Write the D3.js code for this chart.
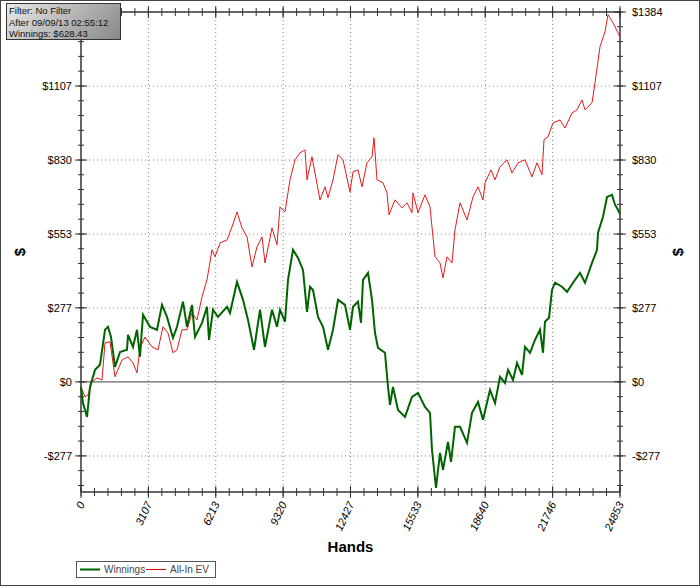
<!DOCTYPE html>
<html><head><meta charset="utf-8">
<script src="https://cdn.jsdelivr.net/npm/d3@7"></script>
<style>body{margin:0;background:#fff}svg{display:block;font-family:"Liberation Sans",Arial,sans-serif}</style>
</head><body><div id="chart"></div>
<script>
// Valores (manos, $)
const winHands = [0,92,277,415,646,876,1107,1245,1383,1568,1798,2121,2167,2398,2582,2720,2859,3182,3504,3735,3965,4242,4427,4703,4888,5118,5257,5579,5810,5902,6087,6317,6732,6870,7193,7470,7700,7977,8254,8484,8807,9038,9176,9406,9545,9775,10006,10236,10421,10559,10698,10928,11159,11389,11620,11850,12173,12404,12542,12772,12911,13003,13234,13418,13556,13695,14017,14156,14248,14386,14617,14940,15262,15539,15862,16092,16185,16369,16554,16692,16922,17061,17245,17476,17799,18029,18306,18536,18859,19090,19320,19551,19689,19920,20104,20335,20473,20703,20934,21164,21303,21395,21580,21718,21856,22179,22410,22686,23009,23239,23562,23793,23839,24069,24254,24484,24623,24761,24853];
const winVals = [-19,-79,-131,-19,45,64,195,206,168,56,112,120,176,131,195,94,251,206,195,288,243,165,206,300,206,288,168,221,281,157,270,243,281,258,374,307,232,120,270,131,270,206,270,225,382,494,464,419,262,356,344,243,206,120,195,307,288,195,281,300,221,382,408,307,183,127,109,-19,-86,-19,-105,-131,-56,-41,-94,-116,-255,-397,-266,-329,-225,-299,-168,-168,-228,-116,-75,-142,-30,-79,19,-4,45,7,71,26,131,109,157,195,109,225,240,344,371,356,337,371,408,371,445,494,558,618,692,700,663,644,628];
const evHands = [0,184,323,507,738,968,1107,1337,1568,1891,2167,2398,2582,2720,2951,3274,3550,3781,4012,4242,4427,4657,4888,5118,5349,5579,5810,6040,6179,6409,6732,6963,7193,7424,7654,7885,8115,8346,8484,8807,9038,9176,9406,9637,9868,10098,10329,10421,10651,11020,11251,11389,11620,11850,12081,12404,12542,12772,12957,13187,13418,13510,13649,13925,14110,14202,14479,14801,15032,15262,15308,15539,15862,16092,16323,16554,16692,16876,17107,17245,17476,17799,18075,18306,18536,18629,18905,19090,19320,19643,19874,20150,20473,20796,21026,21257,21349,21533,21764,22087,22317,22640,22871,23101,23239,23562,23701,23931,24162,24300,24530,24761,24853];
const evVals = [-19,-56,-49,0,15,7,146,150,19,82,94,71,34,127,168,131,120,206,183,109,120,195,195,258,232,318,382,494,468,520,531,580,636,576,543,430,505,543,445,576,513,655,636,756,831,857,868,756,842,681,730,689,756,850,831,711,786,793,730,820,842,913,756,745,707,625,681,651,670,633,707,633,700,655,468,445,389,468,445,569,670,606,692,730,681,745,793,756,805,831,782,820,831,767,820,775,906,917,969,980,950,1006,1018,1055,1018,1044,1119,1254,1310,1374,1344,1306,1290];
const xTicks = [0,3107,6213,9320,12427,15533,18640,21746,24853];
const yTicks = [-277,0,277,553,830,1107,1384];
const infoLines = ["Filter: No Filter","After 09/09/13 02:55:12","Winnings: $628.43"];
const legendItems = [{label:"Winnings",color:"#006400",w:2},{label:"All-In EV",color:"#e00000",w:1}];

const W = 700, H = 588;
const m = {left:81, right:80, top:12, bottom:96};
const svg = d3.select("#chart").append("svg").attr("width",W).attr("height",H);
svg.append("rect").attr("x",0.5).attr("y",0.5).attr("width",W-1).attr("height",585).attr("fill","#fff").attr("stroke","#444");

const x = d3.scaleLinear().domain([0,24853]).range([m.left, W-m.right]);
const y = d3.scaleLinear().domain([-412,1384]).range([H-m.bottom, m.top]);
const x0 = m.left, x1 = W-m.right, y0 = H-m.bottom, y1 = m.top;

// rejilla punteada
const g = svg.append("g");
xTicks.slice(1,-1).forEach(t => g.append("line").attr("x1",x(t)).attr("x2",x(t)).attr("y1",y1).attr("y2",y0)
  .attr("stroke","#888").attr("stroke-dasharray","1 3"));
yTicks.filter(t => t !== 0 && t !== 1384).forEach(t => g.append("line").attr("x1",x0).attr("x2",x1).attr("y1",y(t)).attr("y2",y(t))
  .attr("stroke","#888").attr("stroke-dasharray","1 3"));
g.append("line").attr("x1",x0).attr("x2",x1).attr("y1",y(0)).attr("y2",y(0)).attr("stroke","#666").attr("stroke-width",1.2);

// ejes con ticks menores
const yMinor = d3.range(-7, 26).map(i => i*1384/25).filter(v => v >= -412 && v <= 1384);
const xMinor = d3.range(0, 41).map(i => i*24853/40);
const axis = svg.append("g").attr("stroke","#333");
[x0, x1].forEach(xx => {
  axis.append("line").attr("x1",xx).attr("x2",xx).attr("y1",y1).attr("y2",y0).attr("stroke-width",1.5);
  yMinor.forEach(v => axis.append("line").attr("x1",xx-3).attr("x2",xx+3).attr("y1",y(v)).attr("y2",y(v)));
  yTicks.forEach(v => axis.append("line").attr("x1",xx-6).attr("x2",xx+6).attr("y1",y(v)).attr("y2",y(v)));
});
[y0, y1].forEach(yy => {
  axis.append("line").attr("x1",x0).attr("x2",x1).attr("y1",yy).attr("y2",yy).attr("stroke-width",1.5);
  xMinor.forEach(v => axis.append("line").attr("x1",x(v)).attr("x2",x(v)).attr("y1",yy-4).attr("y2",yy+4));
  xTicks.forEach(v => axis.append("line").attr("x1",x(v)).attr("x2",x(v)).attr("y1",yy-6).attr("y2",yy+6));
});

const fmt = v => v < 0 ? "-$" + (-v) : "$" + v;
yTicks.forEach(v => {
  svg.append("text").attr("x",x0-9).attr("y",y(v)+4).attr("text-anchor","end").attr("font-size",11).text(fmt(v));
  svg.append("text").attr("x",x1+12).attr("y",y(v)+4).attr("font-size",11).text(fmt(v));
});
xTicks.forEach(v => {
  svg.append("text").attr("transform",`translate(${x(v)+4},${y0+12}) rotate(-65)`).attr("text-anchor","end")
    .attr("font-size",11).attr("font-style","italic").text(v);
});
svg.append("text").attr("x",(x0+x1)/2).attr("y",552).attr("text-anchor","middle").attr("font-size",15).attr("font-weight","bold").text("Hands");
svg.append("text").attr("transform",`translate(25,252) rotate(-90)`).attr("text-anchor","middle").attr("font-size",15).attr("font-weight","bold").text("$");
svg.append("text").attr("transform",`translate(683,252) rotate(-90)`).attr("text-anchor","middle").attr("font-size",15).attr("font-weight","bold").text("$");

// series
const line = d3.line().x(d => x(d[0])).y(d => y(d[1]));
svg.append("path").datum(d3.zip(evHands, evVals)).attr("d",line).attr("fill","none").attr("stroke","#e41a1a").attr("stroke-width",1);
svg.append("path").datum(d3.zip(winHands, winVals)).attr("d",line).attr("fill","none").attr("stroke","#006400").attr("stroke-width",2);

// caja de info (html, una sola caja)
svg.append("foreignObject").attr("x",6).attr("y",3).attr("width",116).attr("height",38)
  .append("xhtml:div")
  .style("box-sizing","border-box").style("width","115px").style("height","37px")
  .style("border","1px solid #333").style("background","linear-gradient(135deg,#e8e8e8,#888)")
  .style("font-family","'Liberation Sans',Arial,sans-serif").style("font-size","9.5px").style("line-height","11.5px")
  .style("padding","1px 2px").style("color","#111").style("white-space","nowrap")
  .html(infoLines.join("<br>"));

// leyenda
svg.append("rect").attr("x",76.5).attr("y",561.5).attr("width",139).attr("height",16).attr("fill","#fff").attr("stroke","#555");
legendItems.forEach((d,i) => {
  const lx = 80 + i*66;
  svg.append("line").attr("x1",lx).attr("x2",lx+20).attr("y1",569.5).attr("y2",569.5).attr("stroke",d.color).attr("stroke-width",d.w);
  svg.append("text").attr("x",lx+24).attr("y",573).attr("font-size",10).attr("fill","#444").text(d.label);
});
</script></body></html>
